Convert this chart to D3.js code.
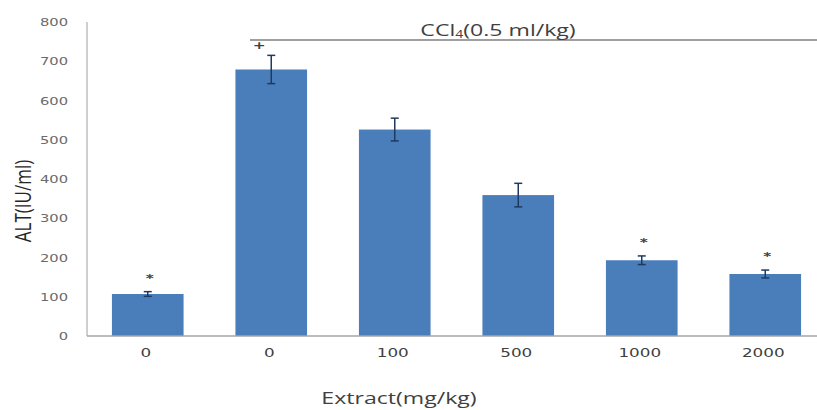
<!DOCTYPE html>
<html>
<head>
<meta charset="utf-8">
<script src="https://cdn.jsdelivr.net/npm/d3@7"></script>
<style>
  body { margin: 0; background: #fff; }
  svg { display: block; }
</style>
</head>
<body>
<div id="chart"></div>
<script>
// chart data
const groups = ["0", "0", "100", "500", "1000", "2000"]
const means = [107, 679, 526, 359, 193, 158]
const errors = [6, 36, 29, 30, 11, 10]
const marks = ["*", "+", "", "", "*", "*"]
const yTicks = [0, 100, 200, 300, 400, 500, 600, 700, 800]

const width = 817,
  height = 410

// the original picture is stretched sideways, so text is too
const stretch = 1.4

const svg = d3.select("#chart").append("svg").attr("width", width).attr("height", height)

const x = d3
  .scaleBand()
  .domain(d3.range(groups.length))
  .range([86, 827])
  .paddingInner(0.42)
  .paddingOuter(0.21)

const y = d3.scaleLinear().domain([0, 800]).range([336, 22])

// y axis
svg.append("line")
  .attr("x1", 87).attr("x2", 87)
  .attr("y1", y(800)).attr("y2", y(0))
  .style("stroke", "#bfbfbf").style("stroke-width", 1.5)

svg.selectAll(".ytick")
  .data(yTicks)
  .enter()
  .append("text")
  .attr("class", "ytick")
  .attr("transform", (d) => `translate(68,${y(d) + 4}) scale(${stretch},1)`)
  .attr("text-anchor", "end")
  .style("font-family", "DejaVu Sans")
  .style("font-size", "10.5px")
  .style("fill", "#6b6b6b")
  .text((d) => d)

// bars
svg.selectAll(".bar")
  .data(means)
  .enter()
  .append("rect")
  .attr("class", "bar")
  .attr("x", (d, i) => x(i))
  .attr("width", x.bandwidth())
  .attr("y", (d) => y(d))
  .attr("height", (d) => y(0) - y(d))
  .style("fill", "#4a7ebb")

// x axis line
svg.append("line")
  .attr("x1", 87).attr("x2", width)
  .attr("y1", y(0)).attr("y2", y(0))
  .style("stroke", "#a6a6a6").style("stroke-width", 1.5)

// error bars
const err = svg.selectAll(".err")
  .data(means)
  .enter()
  .append("g")
  .attr("class", "err")
  .style("stroke", "#1f3a60")
  .style("stroke-width", 1.5)

err.append("line")
  .attr("x1", (d, i) => x(i) + x.bandwidth() / 2)
  .attr("x2", (d, i) => x(i) + x.bandwidth() / 2)
  .attr("y1", (d, i) => y(d + errors[i]))
  .attr("y2", (d, i) => y(d - errors[i]))

err.selectAll(".cap")
  .data((d, i) => [[i, d + errors[i]], [i, d - errors[i]]])
  .enter()
  .append("line")
  .attr("x1", (d) => x(d[0]) + x.bandwidth() / 2 - 4)
  .attr("x2", (d) => x(d[0]) + x.bandwidth() / 2 + 4)
  .attr("y1", (d) => y(d[1]))
  .attr("y2", (d) => y(d[1]))

// significance marks
svg.selectAll(".mark")
  .data(marks)
  .enter()
  .append("text")
  .attr("class", "mark")
  .attr("transform", (d, i) => {
    const mx = x(i) + x.bandwidth() / 2 + (d === "+" ? -12 : 2)
    const my = y(means[i] + errors[i]) - (d === "+" ? 6 : 10)
    return `translate(${mx},${my}) scale(${stretch},1)`
  })
  .attr("text-anchor", "middle")
  .style("font-family", "DejaVu Sans")
  .style("font-size", (d) => (d === "+" ? "11px" : "11px"))
  .style("font-weight", "bold")
  .style("fill", "#404040")
  .text((d) => d)

// x tick labels
svg.selectAll(".xtick")
  .data(groups)
  .enter()
  .append("text")
  .attr("class", "xtick")
  .attr("transform", (d, i) => `translate(${x(i) + x.bandwidth() / 2 - 2},357) scale(${stretch},1)`)
  .attr("text-anchor", "middle")
  .style("font-family", "DejaVu Sans")
  .style("font-size", "12px")
  .style("fill", "#404040")
  .text((d) => d)

// CCl4 bracket line and label
svg.append("line")
  .attr("x1", 250).attr("x2", width)
  .attr("y1", 40).attr("y2", 40)
  .style("stroke", "#7f7f7f").style("stroke-width", 1.5)

const ccl = svg.append("text")
  .attr("transform", `translate(498,36) scale(${stretch},1)`)
  .attr("text-anchor", "middle")
  .style("font-family", "Open Sans")
  .style("font-size", "16.5px")
  .style("fill", "#404040")
ccl.append("tspan").text("CCl")
ccl.append("tspan").attr("dy", 2).style("font-size", "10px").text("4")
ccl.append("tspan").attr("dy", -2).text("(0.5 ml/kg)")

// axis titles
svg.append("text")
  .attr("transform", `translate(399,404) scale(${stretch},1)`)
  .attr("text-anchor", "middle")
  .style("font-family", "Open Sans")
  .style("font-size", "16.5px")
  .style("fill", "#404040")
  .text("Extract(mg/kg)")

svg.append("text")
  .attr("transform", "translate(31,201) rotate(-90) scale(1,1.3)")
  .attr("text-anchor", "middle")
  .style("font-family", "Open Sans")
  .style("font-size", "17px")
  .style("fill", "#262626")
  .text("ALT(IU/ml)")
</script>
</body>
</html>
